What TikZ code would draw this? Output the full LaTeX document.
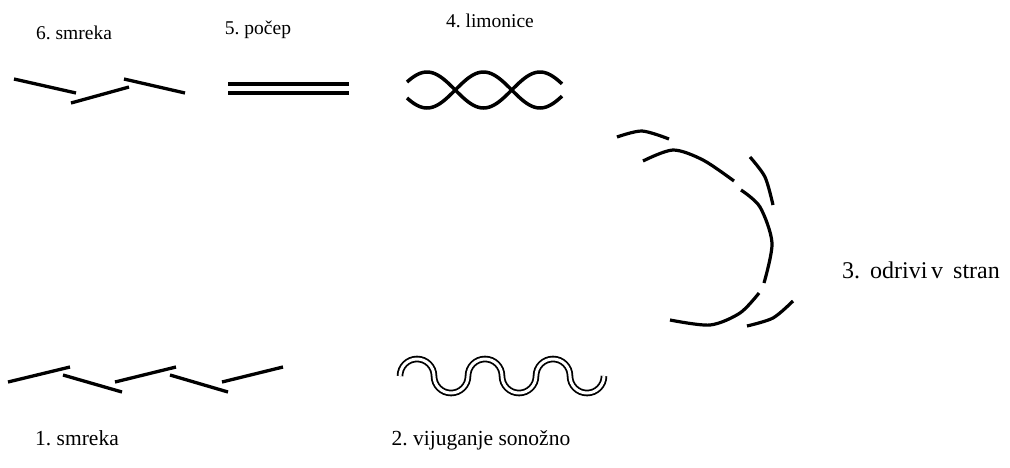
\documentclass[tikz,border=0pt]{standalone}
\usepackage{fontspec}
\setmainfont{Liberation Serif}
\frenchspacing
\begin{document}
\begin{tikzpicture}[x=1pt,y=-1pt,
  lbl/.style={font=\fontsize{19.5}{22}\selectfont, inner sep=0pt, anchor=center},
  lblb/.style={font=\fontsize{21.5}{24}\selectfont, inner sep=0pt, anchor=center},
  lblc/.style={font=\fontsize{24}{26}\selectfont, inner sep=0pt, anchor=center},
  seg/.style={line width=3.3pt},
  arcline/.style={line width=3.2pt},
  dbl/.style={double, double distance=3pt, line width=1.8pt}]
\useasboundingbox (0,0) rectangle (1010,467);
% labels
\node[lbl] (l6) at (74,33) {6. smreka};
\node[lbl] (l5) at (258,30) {5. počep};
\node[lbl] (l4) at (490,21) {4. limonice};
\node[lblc] (l3) at (921,270) {\spaceskip=.42em 3. odrivi\kern.15em v stran};
\node[lblb] (l1) at (77,438) {1. smreka};
\node[lblb] (l2) at (481,440) {2. vijuganje sonožno};
% 6. smreka
\draw[seg] (14,79) -- (76,93);
\draw[seg] (71,103) -- (129,87);
\draw[seg] (124,79) -- (185,93);
% 5. pocep
\draw[seg,line width=4pt] (228,83.5) -- (349,83.5);
\draw[seg,line width=4pt] (228,93) -- (349,93);
% 4. limonice
\draw[line width=3.5pt] plot[domain=-20:135, samples=80] ({\x+427}, {90-18*cos(3.1858*\x)});
\draw[line width=3.5pt] plot[domain=-20:135, samples=80] ({\x+427}, {90+18*cos(3.1858*\x)});
% 3. odrivi v stran
\draw[arcline] plot[smooth] coordinates {(617,137) (642,131) (669,139)};
\draw[arcline] plot[smooth] coordinates {(643,161) (673,150) (703,160) (734,181)};
\draw[arcline] plot[smooth] coordinates {(750,157) (765,177) (773,205)};
\draw[arcline] plot[smooth] coordinates {(741,190) (760,207) (772,243) (764,283)};
\draw[arcline] plot[smooth] coordinates {(759,293) (740,313) (710,325) (670,320)};
\draw[arcline] plot[smooth] coordinates {(747,326) (773,318) (793,301)};
% 1. smreka
\draw[seg] (8,382) -- (70,367);
\draw[seg] (63,375) -- (122,392);
\draw[seg] (115,382) -- (176,367);
\draw[seg] (170,375) -- (228,392);
\draw[seg] (222,382) -- (283,367);
% 2. vijuganje sonozno
\draw[dbl] (400,376) arc(180:360:17) arc(180:0:17) arc(180:360:17) arc(180:0:17) arc(180:360:17) arc(180:0:17);
\end{tikzpicture}
\end{document}
